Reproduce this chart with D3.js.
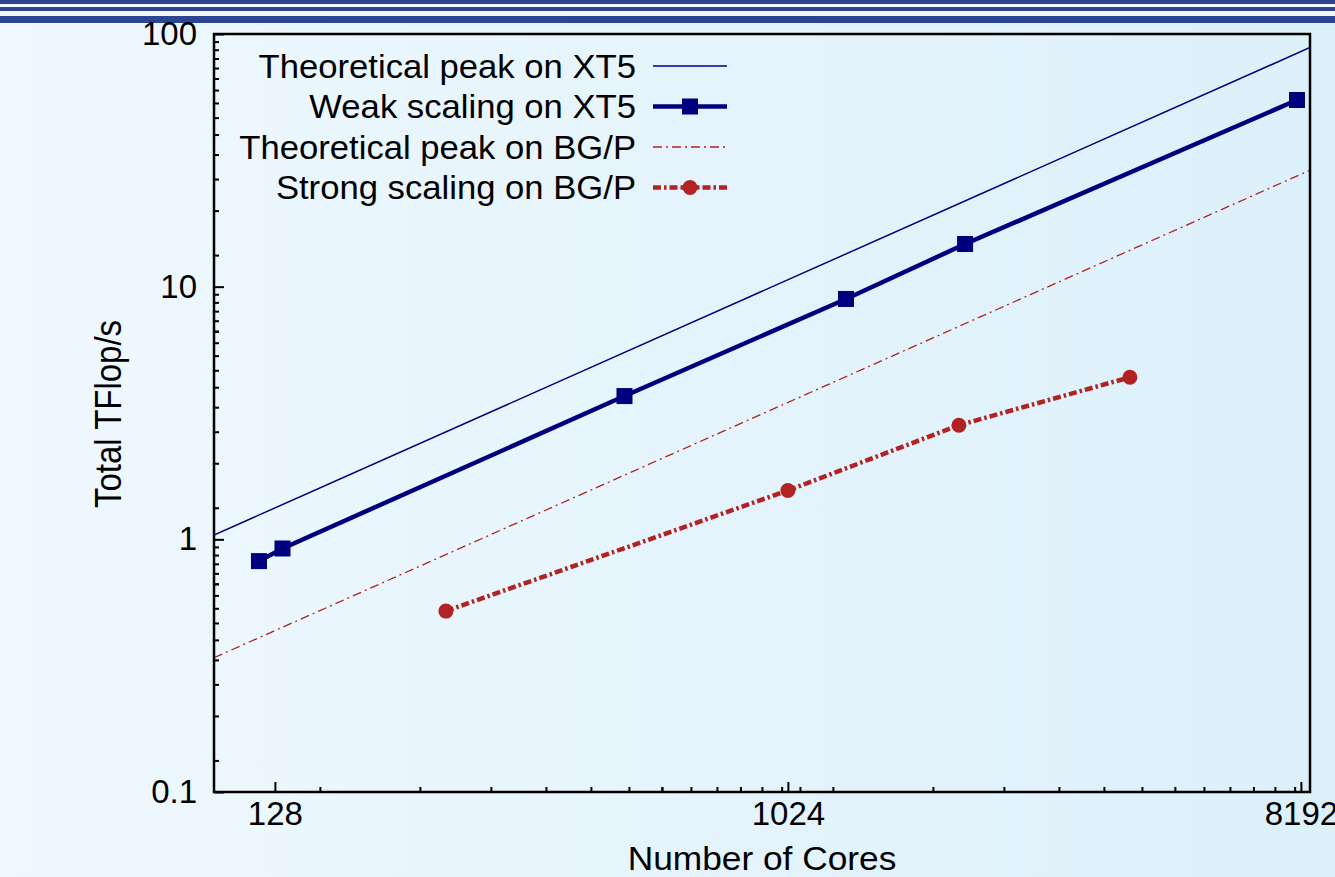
<!DOCTYPE html>
<html>
<head>
<meta charset="utf-8">
<script src="https://cdn.jsdelivr.net/npm/d3@7"></script>
<style>
  html, body { margin: 0; padding: 0; overflow: hidden; }
  svg text { font-family: "Liberation Sans", Arial, Helvetica, sans-serif; fill: #000; }
</style>
</head>
<body>
<div id="chart"></div>
<script>
// values
const xt5PeakCores = [100, 8500];
const xt5PeakTflops = [1.04, 88.4];
const weakCores = [120, 132, 528, 1296, 2100, 8064];
const weakTflops = [0.82, 0.92, 3.69, 8.94, 14.75, 54.8];
const bgpPeakCores = [100, 8500];
const bgpPeakTflops = [0.34, 28.9];
const strongCores = [256, 1024, 2048, 4096];
const strongTflops = [0.52, 1.56, 2.83, 4.38];

const xTickValues = [128, 1024, 8192];
const yTickValues = [0.1, 1, 10, 100];
const yTickLabels = ['0.1', '1', '10', '100'];
// minor ticks sit at k/15 of each "decade" top (gnuplot style)
const minorSteps = [1, 2, 3, 4, 5, 6, 7, 8, 9, 10, 11, 12, 13, 14];
const xMinorTops = [1152, 9216];
const yMinorTops = [1, 10, 100];

const legendLabels = [
  'Theoretical peak on XT5',
  'Weak scaling on XT5',
  'Theoretical peak on BG/P',
  'Strong scaling on BG/P',
];

const WIDTH = 1335;
const HEIGHT = 877;
const PLOT = { left: 214, right: 1310, top: 34, bottom: 792 };
const NAVY = '#00007f';
const RED = '#b22222';
const FONT_SIZE = 33;
const STRETCH = 1.05; // the original picture is a little wider than tall

const svg = d3.select('#chart').append('svg')
  .attr('width', WIDTH)
  .attr('height', HEIGHT);

// background
const defs = svg.append('defs');
const grad = defs.append('linearGradient')
  .attr('id', 'bg')
  .attr('x1', 0).attr('x2', 1).attr('y1', 0).attr('y2', 0);
grad.append('stop').attr('offset', '0%').attr('stop-color', '#eff8fe');
grad.append('stop').attr('offset', '100%').attr('stop-color', '#dcf0fa');
svg.append('rect')
  .attr('width', WIDTH).attr('height', HEIGHT)
  .attr('fill', 'url(#bg)');

// header stripes
const stripes = [[0, 4], [7, 4], [16, 7]];
svg.append('rect').attr('width', WIDTH).attr('height', 23).attr('fill', '#f4f7fb');
svg.selectAll('.stripe')
  .data(stripes)
  .join('rect')
  .attr('class', 'stripe')
  .attr('x', 0).attr('y', d => d[0])
  .attr('width', WIDTH).attr('height', d => d[1])
  .attr('fill', '#2a4591');

defs.append('clipPath').attr('id', 'plotClip')
  .append('rect')
  .attr('x', PLOT.left).attr('y', PLOT.top)
  .attr('width', PLOT.right - PLOT.left).attr('height', PLOT.bottom - PLOT.top);

const x = d3.scaleLog()
  .domain([100, 8500])
  .range([PLOT.left, PLOT.right]);
const y = d3.scaleLog()
  .domain([0.1, 100])
  .range([PLOT.bottom, PLOT.top]);

const inDomain = (scale) => (v) => v >= scale.domain()[0] && v <= scale.domain()[1];
const xMinor = xMinorTops.flatMap(t => minorSteps.map(k => k * t / 15)).filter(inDomain(x));
const yMinor = yMinorTops.flatMap(t => minorSteps.map(k => k * t / 15)).filter(inDomain(y));

// axes (ticks pointing inward, no mirror)
const xAxisMinor = d3.axisBottom(x).tickValues(xMinor).tickSize(-5).tickFormat('');
const xAxisMajor = d3.axisBottom(x).tickValues(xTickValues).tickSize(-10)
  .tickPadding(20).tickFormat(d3.format('d'));
const yAxisMinor = d3.axisLeft(y).tickValues(yMinor).tickSize(-5).tickFormat('');
const yAxisMajor = d3.axisLeft(y).tickValues(yTickValues).tickSize(-10)
  .tickPadding(17).tickFormat((d, i) => yTickLabels[i]);

function styleAxis(g) {
  g.select('.domain').remove();
  g.selectAll('.tick line').attr('stroke', '#000').attr('stroke-width', 2);
  g.selectAll('.tick text').attr('font-size', FONT_SIZE).attr('fill', '#000')
    .style('font-family', '"Liberation Sans", Arial, sans-serif');
}

svg.append('g').attr('transform', `translate(0,${PLOT.bottom})`).call(xAxisMinor).call(styleAxis);
svg.append('g').attr('transform', `translate(0,${PLOT.bottom})`).call(xAxisMajor).call(styleAxis)
  .selectAll('.tick text').attr('dy', '0.71em').attr('y', 10);
svg.append('g').attr('transform', `translate(${PLOT.left},0)`).call(yAxisMinor).call(styleAxis);
svg.append('g').attr('transform', `translate(${PLOT.left},0)`).call(yAxisMajor).call(styleAxis);

// series
const line = d3.line().x(d => x(d[0])).y(d => y(d[1]));
const zipped = (xs, ys) => xs.map((v, i) => [v, ys[i]]);

const series = [
  { data: zipped(xt5PeakCores, xt5PeakTflops), color: NAVY, width: 1.5, dash: null, marker: null },
  { data: zipped(weakCores, weakTflops), color: NAVY, width: 4.5, dash: null, marker: 'square' },
  { data: zipped(bgpPeakCores, bgpPeakTflops), color: RED, width: 1.3, dash: '9,4,2,4', marker: null },
  { data: zipped(strongCores, strongTflops), color: RED, width: 4.5, dash: '8,3,2.5,3', marker: 'circle' },
];

const plotArea = svg.append('g').attr('clip-path', 'url(#plotClip)');

function drawMarker(g, kind, color, cx, cy) {
  if (kind === 'square') {
    g.append('rect')
      .attr('x', cx - 8).attr('y', cy - 8)
      .attr('width', 16).attr('height', 16)
      .attr('fill', color);
  } else if (kind === 'circle') {
    g.append('circle')
      .attr('cx', cx).attr('cy', cy).attr('r', 7.5)
      .attr('fill', color);
  }
}

series.forEach(s => {
  plotArea.append('path')
    .attr('d', line(s.data))
    .attr('fill', 'none')
    .attr('stroke', s.color)
    .attr('stroke-width', s.width)
    .attr('stroke-dasharray', s.dash);
  if (s.marker) {
    const mg = svg.append('g');
    s.data.forEach(d => drawMarker(mg, s.marker, s.color, x(d[0]), y(d[1])));
  }
});

// frame
svg.append('rect')
  .attr('x', PLOT.left).attr('y', PLOT.top)
  .attr('width', PLOT.right - PLOT.left).attr('height', PLOT.bottom - PLOT.top)
  .attr('fill', 'none')
  .attr('stroke', '#000')
  .attr('stroke-width', 2.5);

// legend
const legend = svg.append('g');
const LEGEND_TEXT_X = 636;
const LEGEND_LINE_X0 = 653;
const LEGEND_LINE_X1 = 727;
legendLabels.forEach((label, i) => {
  const s = series[i];
  const ly = 66 + i * 40.5;
  legend.append('text')
    .attr('transform', `translate(${LEGEND_TEXT_X},${ly}) scale(${STRETCH},1)`)
    .attr('dy', '0.35em')
    .attr('text-anchor', 'end')
    .attr('font-size', FONT_SIZE)
    .text(label);
  legend.append('line')
    .attr('x1', LEGEND_LINE_X0).attr('x2', LEGEND_LINE_X1)
    .attr('y1', ly).attr('y2', ly)
    .attr('stroke', s.color)
    .attr('stroke-width', s.width)
    .attr('stroke-dasharray', s.dash);
  if (s.marker) drawMarker(legend, s.marker, s.color, (LEGEND_LINE_X0 + LEGEND_LINE_X1) / 2, ly);
});

// axis titles
svg.append('text')
  .attr('transform', `translate(${(PLOT.left + PLOT.right) / 2},870) scale(1.07,1)`)
  .attr('text-anchor', 'middle')
  .attr('font-size', FONT_SIZE)
  .text('Number of Cores');
svg.append('text')
  .attr('transform', `translate(121,${(PLOT.top + PLOT.bottom) / 2 + 1}) rotate(-90) scale(1,1.1)`)
  .attr('text-anchor', 'middle')
  .attr('font-size', FONT_SIZE)
  .text('Total TFlop/s');
</script>
</body>
</html>
